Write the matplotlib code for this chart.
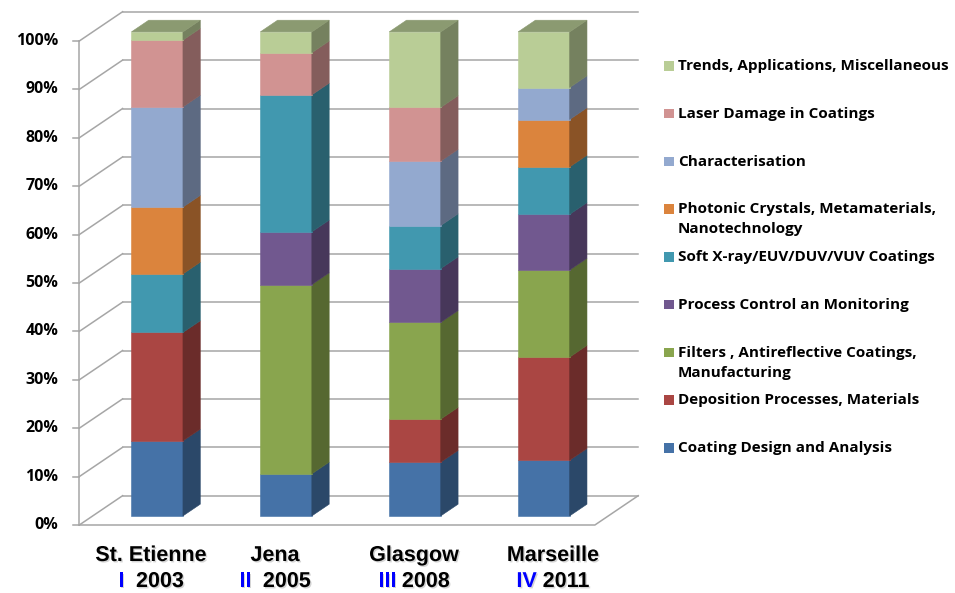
import numpy as np
import matplotlib
matplotlib.use("Agg")
import matplotlib.pyplot as plt
from matplotlib.patches import Polygon, Rectangle
import matplotlib.patheffects as pe

# conferences (categories)
venues = ["St. Etienne", "Jena", "Glasgow", "Marseille"]
numerals = ["I  ", "II  ", "III ", "IV "]
years = ["2003", "2005", "2008", "2011"]

# share of papers per topic (%), one value per conference
design = [15.5, 8.7, 11.1, 11.5]
deposition = [22.4, 0.0, 8.9, 21.3]
filters = [0.0, 39.1, 20.0, 18.0]
process = [0.0, 10.9, 11.1, 11.5]
soft_xray = [12.1, 28.3, 8.9, 9.8]
photonic = [13.8, 0.0, 0.0, 9.8]
characterisation = [20.7, 0.0, 13.3, 6.6]
laser = [13.8, 8.7, 11.1, 0.0]
trends = [1.7, 4.3, 15.6, 11.5]

series = [
    ("Coating Design and Analysis", design, "#4572A7"),
    ("Deposition Processes, Materials", deposition, "#AA4643"),
    ("Filters , Antireflective Coatings,\nManufacturing", filters, "#89A54E"),
    ("Process Control an Monitoring", process, "#71588F"),
    ("Soft X-ray/EUV/DUV/VUV Coatings", soft_xray, "#4198AF"),
    ("Photonic Crystals, Metamaterials,\nNanotechnology", photonic, "#DB843D"),
    ("Characterisation", characterisation, "#93A9CF"),
    ("Laser Damage in Coatings", laser, "#D19392"),
    ("Trends, Applications, Miscellaneous", trends, "#B9CD96"),
]

# fake 3D (oblique) projection, in pixels
X0, Y0 = 79.3, 525.0
CAT_W = 128.9
PX_PER_PCT = 4.84
DX, DY = 43.3, 29.3
BAR_W = 0.4
Z_FRONT, Z_BACK = 0.31, 0.71
GRID = "#A6A6A6"
TXT_FONT = "Open Sans"


def proj(c, v, z):
    return X0 + c * CAT_W + z * DX, Y0 - v * PX_PER_PCT - z * DY


def shade(color, f):
    r, g, b = matplotlib.colors.to_rgb(color)
    return (r * f, g * f, b * f)


fig = plt.figure(figsize=(9.55, 5.93), dpi=100)
ax = fig.add_axes([0, 0, 1, 1])
ax.set_xlim(0, 955)
ax.set_ylim(593, 0)
ax.axis("off")

ncat = len(venues)

# walls, gridlines and ticks
for v in range(0, 101, 10):
    xb0, yb0 = proj(0, v, 1)
    xb1, yb1 = proj(ncat, v, 1)
    xf, yf = proj(0, v, 0)
    ax.plot([xb0, xb1], [yb0, yb1], color=GRID, lw=1.1, zorder=1)
    ax.plot([xf, xb0], [yf, yb0], color=GRID, lw=1.1, zorder=1)
    ax.plot([xf - 6, xf], [yf, yf], color=GRID, lw=1.1, zorder=1)
    ax.text(xf - 21, yf, f"{v}%", ha="right", va="center",
            fontsize=11.5, fontweight="bold", family=TXT_FONT, color="black")

fx0, fy0 = proj(0, 0, 0)
fx1, fy1 = proj(0, 100, 0)
ax.plot([fx0, fx1], [fy0, fy1], color=GRID, lw=1.1, zorder=1)
# floor
p1 = proj(ncat, 0, 0)
p2 = proj(ncat, 0, 1)
ax.plot([fx0, p1[0], p2[0]], [fy0, p1[1], p2[1]], color=GRID, lw=1.1, zorder=1)

# stacked 3D bars
for i in range(ncat):
    cl, cr = i + 0.5 - BAR_W / 2, i + 0.5 + BAR_W / 2
    bottom = 0.0
    top_color = None
    for name, vals, color in series:
        h = vals[i]
        if h <= 0:
            continue
        y0, y1 = bottom, bottom + h
        front = [proj(cl, y0, Z_FRONT), proj(cr, y0, Z_FRONT),
                 proj(cr, y1, Z_FRONT), proj(cl, y1, Z_FRONT)]
        side = [proj(cr, y0, Z_FRONT), proj(cr, y0, Z_BACK),
                proj(cr, y1, Z_BACK), proj(cr, y1, Z_FRONT)]
        ax.add_patch(Polygon(front, closed=True, fc=color, ec=color, lw=0.4, zorder=3))
        ax.add_patch(Polygon(side, closed=True, fc=shade(color, 0.63),
                             ec=shade(color, 0.63), lw=0.4, zorder=3))
        bottom = y1
        top_color = color
    top = [proj(cl, bottom, Z_FRONT), proj(cr, bottom, Z_FRONT),
           proj(cr, bottom, Z_BACK), proj(cl, bottom, Z_BACK)]
    ax.add_patch(Polygon(top, closed=True, fc=shade(top_color, 0.75),
                         ec=shade(top_color, 0.75), lw=0.4, zorder=3))

# category labels (hand placed text boxes in the original)
label_x = [151, 275, 414, 553]
shadow = [pe.withSimplePatchShadow(offset=(1, -1), shadow_rgbFace="#888888", alpha=0.35)]
fig.canvas.draw()
renderer = fig.canvas.get_renderer()
for i in range(ncat):
    ax.text(label_x[i], 561, venues[i], ha="center", va="baseline",
            fontsize=15.5, fontweight="bold", family="Liberation Sans",
            path_effects=shadow, zorder=5)
    t1 = ax.text(0, 587, numerals[i], ha="left", va="baseline", fontsize=15.5,
                 fontweight="bold", family="Liberation Sans", color="#0000FF",
                 path_effects=shadow, zorder=5)
    t2 = ax.text(0, 587, years[i], ha="left", va="baseline", fontsize=15.5,
                 fontweight="bold", family="Liberation Sans", color="black",
                 path_effects=shadow, zorder=5)
    w1 = t1.get_window_extent(renderer).width
    w2 = t2.get_window_extent(renderer).width
    start = label_x[i] - (w1 + w2) / 2
    t1.set_x(start)
    t2.set_x(start + w1)

# legend, top entry first
leg_y0, leg_step = 66, 47.75
for k, (name, vals, color) in enumerate(reversed(series)):
    y = leg_y0 + k * leg_step
    ax.add_patch(Rectangle((664, y - 4.8), 9.5, 9.5, fc=color, ec="none", zorder=5))
    for j, line in enumerate(name.split("\n")):
        ax.text(678, y + j * 20, line, ha="left", va="center",
                fontsize=11, fontweight="bold", family=TXT_FONT, color="black")

fig.savefig("out.png", dpi=100, facecolor="white")
